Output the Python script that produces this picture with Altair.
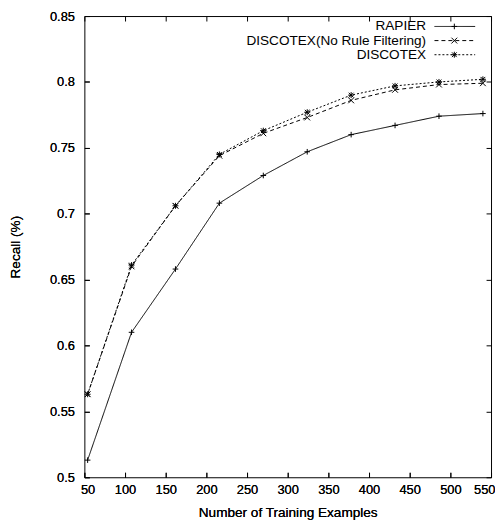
import altair as alt
import pandas as pd

# ---- data ----
x_vals = [54, 108, 162, 216, 270, 324, 378, 432, 486, 540]
series_names = ["RAPIER", "DISCOTEX(No Rule Filtering)", "DISCOTEX"]
rapier = [0.513, 0.610, 0.658, 0.708, 0.729, 0.747, 0.760, 0.767, 0.774, 0.776]
discotex_nrf = [0.563, 0.660, 0.706, 0.744, 0.761, 0.773, 0.786, 0.794, 0.798, 0.799]
discotex = [0.563, 0.661, 0.706, 0.745, 0.763, 0.777, 0.790, 0.797, 0.800, 0.802]

x_ticks = [50, 100, 150, 200, 250, 300, 350, 400, 450, 500, 550]
y_ticks = [0.5, 0.55, 0.6, 0.65, 0.7, 0.75, 0.8, 0.85]

rows = []
for name, vals in zip(series_names, [rapier, discotex_nrf, discotex]):
    for xv, yv in zip(x_vals, vals):
        rows.append({"examples": xv, "recall": yv, "series": name})
df = pd.DataFrame(rows)
legend_df = pd.DataFrame({"series": series_names})

FONT = "Liberation Sans"
PLUS = "M-1,0L1,0M0,-1L0,1"
CROSS = "M-1,-1L1,1M-1,1L1,-1"
STAR = "M-1,0L1,0M0,-1L0,1M-0.8,-0.8L0.8,0.8M-0.8,0.8L0.8,-0.8"

dash_scale = alt.Scale(domain=series_names, range=[[1, 0], [4, 3], [2, 2]])
shape_scale = alt.Scale(domain=series_names, range=[PLUS, CROSS, STAR])
size_scale = alt.Scale(domain=series_names, range=[32, 36, 44])

x_scale = alt.Scale(domain=[50, 550], nice=False, zero=False)
y_scale = alt.Scale(domain=[0.5, 0.85], nice=False, zero=False)

common_axis = dict(domain=False, grid=False, tickSize=5, offset=-5,
                   labelOverlap=False,
                   tickColor="black", labelColor="black", titleColor="black",
                   labelFont=FONT, titleFont=FONT, labelFontSize=13,
                   titleFontSize=13.7, titleFontWeight="normal")

x_axis = alt.Axis(values=x_ticks, title="Number of Training Examples", orient="bottom",
                  labelFlush=True, labelFlushOffset=4,
                  labelPadding=6, titlePadding=10, format="d", **common_axis)
y_axis = alt.Axis(values=y_ticks, title="Recall (%)", orient="left", labelFlush=False,
                  labelPadding=10, titlePadding=27, format="~g", **common_axis)
x_axis_top = alt.Axis(values=x_ticks, title=None, orient="top", labels=False, **common_axis)
y_axis_right = alt.Axis(values=y_ticks, title=None, orient="right", labels=False, **common_axis)

lines = alt.Chart(df).mark_line(color="black", strokeWidth=1).encode(
    x=alt.X("examples:Q", scale=x_scale, axis=x_axis),
    y=alt.Y("recall:Q", scale=y_scale, axis=y_axis),
    strokeDash=alt.StrokeDash("series:N", scale=dash_scale, legend=None),
)

points = alt.Chart(df).mark_point(color="black", filled=False, strokeWidth=1, opacity=1).encode(
    x=alt.X("examples:Q", scale=x_scale, axis=x_axis),
    y=alt.Y("recall:Q", scale=y_scale, axis=y_axis),
    shape=alt.Shape("series:N", scale=shape_scale, legend=None),
    size=alt.Size("series:N", scale=size_scale, legend=None),
)

mirror = alt.Chart(df).mark_point(opacity=0).encode(
    x=alt.X("examples:Q", scale=x_scale, axis=x_axis_top),
    y=alt.Y("recall:Q", scale=y_scale, axis=y_axis_right),
)

main = alt.layer(lines, points, mirror).resolve_axis(x="independent", y="independent")

leg_y = alt.Y("series:N", scale=alt.Scale(type="point", domain=series_names, range=[10.5, 39], padding=0), axis=None)

leg_text = alt.Chart(legend_df).mark_text(align="right", baseline="middle", font=FONT,
                                          fontSize=13.7, color="black").encode(
    x=alt.value(344.5), y=leg_y, text="series:N")
leg_line = alt.Chart(legend_df).mark_rule(color="black", strokeWidth=1).encode(
    x=alt.value(353), x2=alt.value(394), y=leg_y,
    strokeDash=alt.StrokeDash("series:N", scale=dash_scale, legend=None))
leg_pt = alt.Chart(legend_df).mark_point(color="black", filled=False, strokeWidth=1, opacity=1).encode(
    x=alt.value(373), y=leg_y,
    shape=alt.Shape("series:N", scale=shape_scale, legend=None),
    size=alt.Size("series:N", scale=size_scale, legend=None))

legend = alt.layer(leg_text, leg_line, leg_pt)

chart = alt.layer(main, legend).resolve_scale(y="independent").properties(
    width=410, height=465,
    padding={"left": 0, "top": 0, "right": 0, "bottom": 0},
    background="white",
).configure_view(stroke="black", strokeWidth=1).configure_axis(
    titleFontWeight="normal", labelFontWeight="normal"
)

chart.save("out.html", embed_options={"renderer": "svg", "actions": False})
